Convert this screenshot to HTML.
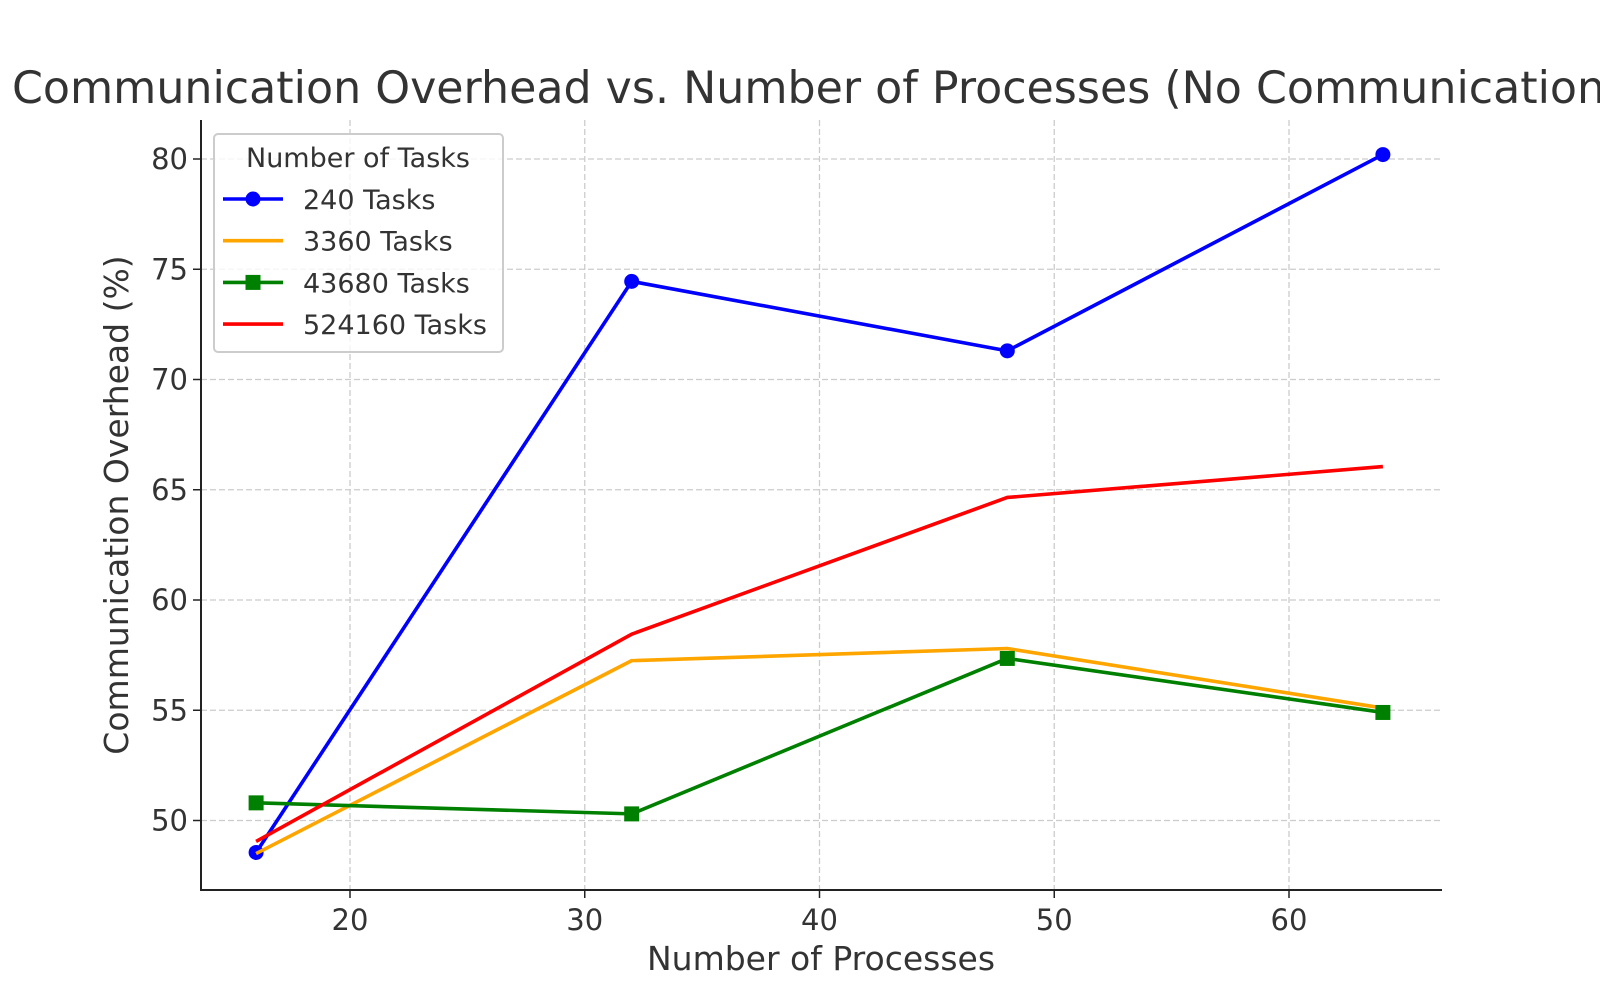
<!DOCTYPE html>
<html><head><meta charset="utf-8"><style>
html,body{margin:0;padding:0;background:#fff;overflow:hidden;}
svg text{font-family:"DejaVu Sans","Liberation Sans",sans-serif;fill:#333;}
</style></head><body>
<svg id="chart" width="1600" height="1000" xmlns="http://www.w3.org/2000/svg">
<text x="12" y="103" font-size="44.3">Communication Overhead vs. Number of Processes (No Communication)</text>
<g id="grid"></g>
<g id="axes"></g>
<g id="series"></g>
<text x="821" y="970" font-size="33" text-anchor="middle">Number of Processes</text>
<text transform="translate(128,505) rotate(-90)" font-size="33" text-anchor="middle">Communication Overhead (%)</text>
<g id="legend">
<rect x="214" y="134" width="289" height="218" rx="4" fill="#fff" fill-opacity="0.8" stroke="#ccc" stroke-width="2"/>
<text x="358" y="167" font-size="27" text-anchor="middle">Number of Tasks</text>
</g>
</svg>
<script>
const processes=[16,32,48,64];
const tasks240=[48.55,74.45,71.3,80.2];
const tasks3360=[48.5,57.25,57.8,55.1];
const tasks43680=[50.8,50.3,57.35,54.9];
const tasks524160=[49.05,58.45,64.65,66.05];
const seriesLabels=["240 Tasks","3360 Tasks","43680 Tasks","524160 Tasks"];
const xTicks=[20,30,40,50,60];
const yTicks=[50,55,60,65,70,75,80];

const NS="http://www.w3.org/2000/svg";
const L=201,R=1442,T=120,B=890;
const xs=v=>350+(v-20)*23.475;
const ys=v=>820.5-(v-50)*22.05;
function mk(tag,attrs,parent){const e=document.createElementNS(NS,tag);for(const k in attrs)e.setAttribute(k,attrs[k]);parent.appendChild(e);return e;}
const grid=document.getElementById('grid'),axes=document.getElementById('axes'),ser=document.getElementById('series'),leg=document.getElementById('legend');
xTicks.forEach(t=>{const x=xs(t);
 const g=mk('line',{x1:x,x2:x,y1:T,y2:B,stroke:'#ccc','stroke-width':1.3,'stroke-dasharray':'6,3'},grid);
 
 const tk=mk('line',{x1:x,x2:x,y1:B,y2:B+8,stroke:'#222','stroke-width':1.5},axes);
 
 const tx=mk('text',{x:x,y:B+40,'font-size':29,'text-anchor':'middle'},axes);tx.textContent=t;
 });
yTicks.forEach(t=>{const y=ys(t);
 const g=mk('line',{x1:L,x2:R,y1:y,y2:y,stroke:'#ccc','stroke-width':1.3,'stroke-dasharray':'6,3'},grid);
 
 const tk=mk('line',{x1:L-8,x2:L,y1:y,y2:y,stroke:'#222','stroke-width':1.5},axes);
 
 const tx=mk('text',{x:L-13,y:y+10,'font-size':29,'text-anchor':'end'},axes);tx.textContent=t;
 });
const ax=mk('path',{d:`M${L},${T}V${B}H${R}`,fill:'none',stroke:'#222','stroke-width':2},axes);

const defs=[[tasks240,'#0000ff','circle'],[tasks3360,'#ffa500',null],[tasks43680,'#008000','square'],[tasks524160,'#ff0000',null]];
defs.forEach((d,i)=>{const [vals,c,m]=d;
 const p=mk('polyline',{points:vals.map((v,j)=>xs(processes[j])+','+ys(v)).join(' '),fill:'none',stroke:c,'stroke-width':3.6,'stroke-linejoin':'round'},ser);
 
 vals.forEach((v,j)=>{const x=xs(processes[j]),y=ys(v);let e;
  if(m==='circle')e=mk('circle',{cx:x,cy:y,r:7.5,fill:c},ser);
  else if(m==='square')e=mk('rect',{x:x-7.5,y:y-7.5,width:15,height:15,fill:c},ser);
  if(e){}});
 const ly=199+i*41.7;
 const ll=mk('line',{x1:223,x2:283,y1:ly,y2:ly,stroke:c,'stroke-width':3.6},leg);
 
 let e;
 if(m==='circle')e=mk('circle',{cx:253,cy:ly,r:7.5,fill:c},leg);
 else if(m==='square')e=mk('rect',{x:245.5,y:ly-7.5,width:15,height:15,fill:c},leg);
 if(e){}
 const t=mk('text',{x:303,y:ly+10,'font-size':27},leg);t.textContent=seriesLabels[i];
 });
</script>
</body></html>
